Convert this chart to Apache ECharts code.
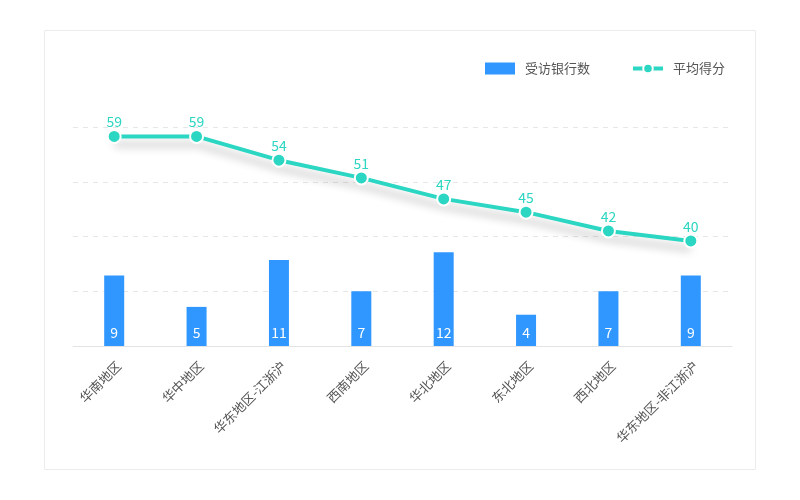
<!DOCTYPE html>
<html>
<head>
<meta charset="utf-8">
<script src="https://cdn.jsdelivr.net/npm/echarts@6/dist/echarts.min.js"></script>
<style>
  html, body { margin: 0; padding: 0; background: #fff; }
  #main { width: 800px; height: 500px; }
</style>
</head>
<body>
<div id="main"></div>
<script>
// 地区
var regions = ['华南地区', '华中地区', '华东地区-江浙沪', '西南地区', '华北地区', '东北地区', '西北地区', '华东地区-非江浙沪'];
// 受访银行数
var bankCounts = [9, 5, 11, 7, 12, 4, 7, 9];
var avgScores = [58.7, 58.7, 54.4, 51.2, 47.4, 45.0, 41.6, 39.8];

var barColor = '#2f97ff';
var lineColor = '#2bd6c2';
var font = '"Noto Sans CJK SC", "Noto Sans", sans-serif';

var chart = echarts.init(document.getElementById('main'));
chart.setOption({
    textStyle: { fontFamily: font },
    graphic: [{
        type: 'rect',
        shape: { x: 44.5, y: 30.5, width: 711, height: 439 },
        style: { fill: 'none', stroke: '#ececec', lineWidth: 1 },
        silent: true
    }],
    legend: {
        right: 70,
        top: 57,
        itemGap: 41,
        itemWidth: 30,
        itemHeight: 12,
        textStyle: { color: '#555', fontSize: 13, fontFamily: font, padding: [0, 0, 0, 5] },
        data: [
            { name: '受访银行数', icon: 'rect' },
            { name: '平均得分', lineStyle: { width: 4 } }
        ]
    },
    grid: { left: 73, right: 68, top: 127, bottom: 154 },
    xAxis: [{
        type: 'category',
        data: regions,
        axisLine: { lineStyle: { color: '#e3e3e3' } },
        axisTick: { show: false },
        axisLabel: {
            rotate: 45, color: '#555', fontSize: 13, margin: 13, interval: 0,
            verticalAlign: 'top', fontFamily: font
        }
    }],
    yAxis: [{
        type: 'value',
        min: 0,
        max: 28,
        interval: 7,
        axisLine: { show: false },
        axisTick: { show: false },
        axisLabel: { show: false },
        splitLine: { lineStyle: { color: '#e6e6e6', type: [5, 5] } }
    }, {
        type: 'value',
        min: 20.8,
        max: 60.4,
        axisLine: { show: false },
        axisTick: { show: false },
        axisLabel: { show: false },
        splitLine: { show: false }
    }],
    series: [{
        name: '受访银行数',
        type: 'bar',
        barWidth: 20,
        itemStyle: { color: barColor },
        label: {
            show: true,
            position: 'insideBottom',
            distance: 6,
            color: '#fff',
            fontSize: 14,
            fontFamily: font
        },
        data: bankCounts
    }, {
        name: '平均得分',
        type: 'line',
        yAxisIndex: 1,
        symbol: 'circle',
        symbolSize: 13,
        itemStyle: { color: lineColor, borderColor: '#fff', borderWidth: 2 },
        lineStyle: {
            color: lineColor,
            width: 4,
            shadowColor: 'rgba(0,0,0,0.25)',
            shadowBlur: 8,
            shadowOffsetY: 8
        },
        label: {
            show: true,
            position: 'top',
            distance: 0,
            color: lineColor,
            fontSize: 14,
            fontFamily: font,
            formatter: function (p) { return Math.round(p.value); }
        },
        data: avgScores
    }]
});
</script>
</body>
</html>
